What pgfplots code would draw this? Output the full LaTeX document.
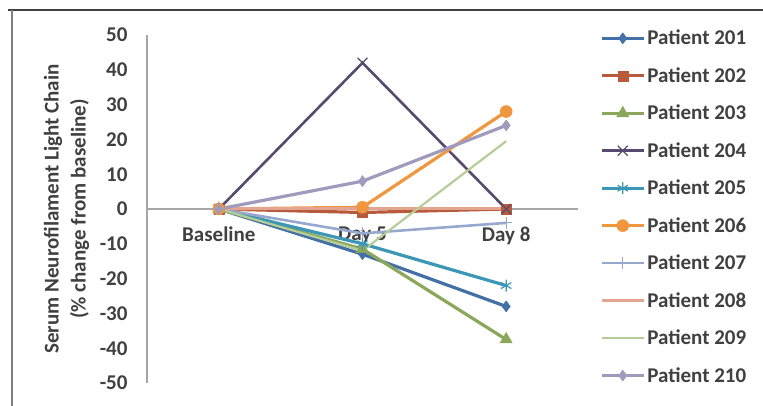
\documentclass[border=0pt]{standalone}
\usepackage{fontspec}
\setmainfont{Carlito}
\usepackage{pgfplots}
\pgfplotsset{compat=1.18}
\definecolor{c201}{HTML}{4470A8}
\definecolor{c202}{HTML}{B85A3C}
\definecolor{c203}{HTML}{8BA75A}
\definecolor{c204}{HTML}{574A6E}
\definecolor{c205}{HTML}{3C97B7}
\definecolor{c206}{HTML}{F0963F}
\definecolor{c207}{HTML}{97A8CE}
\definecolor{c208}{HTML}{E3A58F}
\definecolor{c209}{HTML}{B5CD97}
\definecolor{c210}{HTML}{A09BBD}
\definecolor{txt}{HTML}{404040}
\definecolor{axgray}{HTML}{A6A6A6}
\begin{document}
\begin{tikzpicture}
\useasboundingbox (0,0) rectangle (763pt,406pt);
\draw[txt, line width=2pt] (8pt,396pt) -- (763pt,396pt);
\draw[gray, line width=1.5pt] (12pt,396pt) -- (12pt,0pt);
\begin{axis}[
  at={(147pt,23pt)}, anchor=south west,
  scale only axis, width=431pt, height=348pt,
  xmin=-0.5, xmax=2.5, ymin=-50, ymax=50,
  axis x line=middle, axis y line=left,
  axis line style={axgray, line width=1.2pt, -},
  hide obscured x ticks=false, hide obscured y ticks=false,
  xtick={0,1,2}, xticklabels={Baseline,Day 5,Day 8},
  ytick={-50,-40,-30,-20,-10,0,10,20,30,40,50},
  yticklabels={-50,-40,-30,-20,-10,0,10,20,30,40,50},
  ytick style={draw=none},
  xtick style={axgray, line width=1pt},
  tick align=outside, major tick length=5pt,
  tick label style={font=\fontsize{21}{25}\selectfont\bfseries, text=txt},
  yticklabel style={xshift=-11pt},
  xticklabel style={yshift=-9pt},
  ylabel={Serum Neurofilament Light Chain\\(\% change from baseline)},
  ylabel style={at={(axis description cs:-0.187,0.5)}, anchor=center, align=center,
    font=\fontsize{21}{27}\selectfont\bfseries, text=txt},
  clip=false,
  legend style={at={(axis description cs:1.051,1.02)}, anchor=north west, draw=none, fill=none,
    font=\fontsize{21}{25}\selectfont\bfseries, text=txt, row sep=17.2pt, inner sep=0pt,
    /tikz/every even column/.append style={column sep=0pt}},
  legend cell align=left,
  legend image code/.code={\draw[mark repeat=2,mark phase=2,#1] plot coordinates {(0pt,0pt) (21pt,0pt) (42pt,0pt)};},
]
\addplot[c201, line width=3.2pt, mark=diamond*, mark size=5.5pt, mark options={solid, line width=0.5pt}] coordinates {(0,0) (1,-13) (2,-28)};
\addlegendentry{Patient 201}
\addplot[c202, line width=3.2pt, mark=square*, mark size=5pt, mark options={solid, line width=0.5pt}] coordinates {(0,0) (1,-1) (2,0)};
\addlegendentry{Patient 202}
\addplot[c203, line width=3.2pt, mark=triangle*, mark size=7pt, mark options={solid, line width=0.5pt}] coordinates {(0,0) (1,-11.5) (2,-37.5)};
\addlegendentry{Patient 203}
\addplot[c204, line width=2.6pt, mark=x, mark size=7pt, mark options={solid, line width=1.2pt}] coordinates {(0,0) (1,42) (2,0)};
\addlegendentry{Patient 204}
\addplot[c205, line width=3.2pt, mark=asterisk, mark size=6pt, mark options={solid, line width=1.2pt}] coordinates {(0,0) (1,-10) (2,-22)};
\addlegendentry{Patient 205}
\addplot[c206, line width=3.2pt, mark=*, mark size=6pt, mark options={solid, line width=0.5pt}] coordinates {(0,0) (1,0.5) (2,28)};
\addlegendentry{Patient 206}
\addplot[c207, line width=2.6pt, mark=+, mark size=6pt, mark options={solid, line width=1pt}] coordinates {(0,0) (1,-7) (2,-4)};
\addlegendentry{Patient 207}
\addplot[c208, line width=3pt] coordinates {(0,0) (1,0) (2,0)};
\addlegendentry{Patient 208}
\addplot[c209, line width=2.2pt] coordinates {(0,0) (1,-12) (2,19.5)};
\addlegendentry{Patient 209}
\addplot[c210, line width=3.2pt, mark=diamond*, mark size=5.5pt, mark options={solid, line width=0.5pt}] coordinates {(0,0) (1,8) (2,24)};
\addlegendentry{Patient 210}
\end{axis}
\end{tikzpicture}
\end{document}
